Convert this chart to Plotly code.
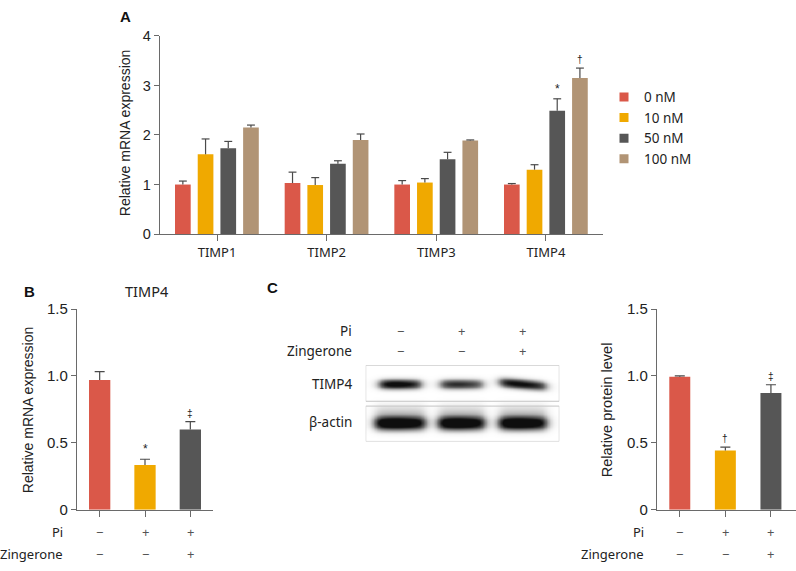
import numpy as np
import plotly.graph_objects as go

W, H = 796, 571

# ---------------- data ----------------
# Panel A: relative mRNA expression of TIMPs by zingerone dose
genes = ["TIMP1", "TIMP2", "TIMP3", "TIMP4"]
doses = ["0 nM", "10 nM", "50 nM", "100 nM"]
mean_0nM = [1.00, 1.03, 1.00, 1.00]
mean_10nM = [1.61, 0.99, 1.04, 1.30]
mean_50nM = [1.73, 1.42, 1.51, 2.49]
mean_100nM = [2.15, 1.90, 1.89, 3.15]
errtop_0nM = [1.07, 1.25, 1.08, 1.02]
errtop_10nM = [1.92, 1.14, 1.12, 1.40]
errtop_50nM = [1.87, 1.48, 1.65, 2.73]
errtop_100nM = [2.20, 2.02, 1.90, 3.35]
sig_A_series = [2, 3]
sig_A_gene = [3, 3]
sig_A_text = ["*", "†"]

# Panel B: TIMP4 mRNA
pi_signs = ["−", "+", "+"]
zing_signs = ["−", "−", "+"]
mrna_B = [0.97, 0.334, 0.60]
mrna_B_top = [1.033, 0.377, 0.658]
sig_B = ["", "*", "‡"]

# Panel C: TIMP4 protein
protein_C = [0.994, 0.443, 0.873]
protein_C_top = [1.000, 0.467, 0.934]
sig_C = ["", "†", "‡"]

# Western blot band appearance (per lane)
blot_rows = ["TIMP4", "β-actin"]
timp4_intensity = [0.95, 0.72, 0.88]
timp4_tilt = [0.0, 0.0, -0.14]
actin_intensity = [1.0, 1.0, 1.0]

# ---------------- style ----------------
colors4 = ["#DA5849", "#F0A900", "#565656", "#B19475"]
colors3 = colors4[:3]
AX = "#6a6a6a"
TXT = "#222222"
NUM_FONT = "Liberation Sans, Arial, sans-serif"
LAB_FONT = "Noto Sans, sans-serif"
ERRC = "#4a4a4a"

fig = go.Figure()


def err_lines(xc, lo, hi, cap, xa, ya):
    xs, ys = [], []
    for x, a, b in zip(xc, lo, hi):
        xs += [x, x, None, x - cap, x + cap, None]
        ys += [a, b, None, b, b, None]
    return go.Scatter(x=xs, y=ys, mode="lines", line=dict(color=ERRC, width=1.2),
                      xaxis=xa, yaxis=ya, showlegend=False, hoverinfo="skip")


# ---- Panel A bars ----
means = [mean_0nM, mean_10nM, mean_50nM, mean_100nM]
tops = [errtop_0nM, errtop_10nM, errtop_50nM, errtop_100nM]
bw = 0.143
step = 0.207
off0 = -0.383
for i in range(4):
    off = off0 + i * step
    fig.add_trace(go.Bar(x=list(range(len(genes))), y=means[i], width=bw, offset=off,
                         marker=dict(color=colors4[i], line=dict(width=0)),
                         xaxis="x", yaxis="y", showlegend=False, name=doses[i]))
    xc = [j + off + bw / 2 for j in range(len(genes))]
    fig.add_trace(err_lines(xc, means[i], tops[i], 0.036, "x", "y"))
    # legend entry
    fig.add_trace(go.Scatter(x=[None], y=[None], mode="markers", name=doses[i],
                             marker=dict(symbol="square", size=9, color=colors4[i]),
                             xaxis="x", yaxis="y", showlegend=True))

annotations = []
for s, g, t in zip(sig_A_series, sig_A_gene, sig_A_text):
    annotations.append(dict(x=g + off0 + s * step + bw / 2, y=tops[s][g], xref="x", yref="y",
                            text=t, showarrow=False, yanchor="bottom", yshift=1,
                            font=dict(size=12 if t == "*" else 10, color=TXT, family=NUM_FONT)))

# ---- Panel B ----
bwB = 0.47
fig.add_trace(go.Bar(x=[0, 1, 2], y=mrna_B, width=bwB, offset=-bwB / 2,
                     marker=dict(color=colors3, line=dict(width=0)),
                     xaxis="x2", yaxis="y2", showlegend=False))
fig.add_trace(err_lines([0, 1, 2], mrna_B, mrna_B_top, 0.11, "x2", "y2"))
for i, t in enumerate(sig_B):
    if t:
        annotations.append(dict(x=i, y=mrna_B_top[i], xref="x2", yref="y2", text=t,
                                showarrow=False, yanchor="bottom", yshift=1,
                                font=dict(size=12 if t == "*" else 10, color=TXT, family=NUM_FONT)))

# ---- Panel C bars ----
fig.add_trace(go.Bar(x=[0, 1, 2], y=protein_C, width=0.46, offset=-0.23,
                     marker=dict(color=colors3, line=dict(width=0)),
                     xaxis="x3", yaxis="y3", showlegend=False))
fig.add_trace(err_lines([0, 1, 2], protein_C, protein_C_top, 0.11, "x3", "y3"))
for i, t in enumerate(sig_C):
    if t:
        annotations.append(dict(x=i, y=protein_C_top[i], xref="x3", yref="y3", text=t,
                                showarrow=False, yanchor="bottom", yshift=1,
                                font=dict(size=10, color=TXT, family=NUM_FONT)))

# ---- Western blot image (heatmap) ----
bx = np.linspace(-0.56, 2.6, 330)
by = np.linspace(0.0, 2.0, 170)
X, Y = np.meshgrid(bx, by)
Z = np.zeros_like(X)


def band(xc, yc, hw, hh, amp, tilt, halo=0.0):
    yy = yc + tilt * (X - xc)
    px = 1.0 / (1.0 + np.exp((np.abs(X - xc) - hw) / 0.045))
    py = np.exp(-np.abs((Y - yy) / hh) ** 2.2)
    core = 0.75 + 0.25 * np.exp(-((X - xc + 0.08) / (hw * 0.9)) ** 2)
    val = amp * px * py * core
    if halo:
        ph = np.exp(-np.abs((Y - (yy + hh * 1.6)) / (hh * 1.2)) ** 2)
        val = val + halo * px * ph
    return val


timp4_hw = [0.33, 0.34, 0.37]
actin_hw = [0.40, 0.37, 0.38]
for i in range(3):
    Z = Z + band(i, 1.505, timp4_hw[i], 0.12, timp4_intensity[i] * 1.2, timp4_tilt[i])
    Z = Z + band(i, 0.48, actin_hw[i], 0.17, actin_intensity[i] * 1.4, 0.0, halo=0.18)
Z = np.clip(Z, 0, 1)
fig.add_trace(go.Heatmap(x=bx, y=by, z=Z, zmin=0, zmax=1, zsmooth="best",
                         colorscale=[[0, "#ffffff"], [0.5, "#777777"], [1, "#0e0e0e"]],
                         showscale=False, xaxis="x4", yaxis="y4", hoverinfo="skip"))

shapes = [
    dict(type="rect", xref="x4", yref="y4", x0=-0.56, x1=2.6, y0=1.056, y1=2.0,
         line=dict(color="#c4c4c4", width=1)),
    dict(type="rect", xref="x4", yref="y4", x0=-0.56, x1=2.6, y0=0.0, y1=0.929,
         line=dict(color="#c4c4c4", width=1)),
]

# ---- texts ----
def ptxt(x, y, text, size, xanchor="center", family=LAB_FONT, color=TXT, bold=False, angle=0):
    return dict(x=x / W, y=1 - y / H, xref="paper", yref="paper", text=f"<b>{text}</b>" if bold else text,
                showarrow=False, xanchor=xanchor, yanchor="middle", textangle=angle,
                font=dict(size=size, family=family, color=color))

annotations += [
    ptxt(125, 8, "A", 15, family=NUM_FONT, bold=True, color="#111"),
    ptxt(30, 291, "B", 15, family=NUM_FONT, bold=True, color="#111"),
    ptxt(272, 287, "C", 15, family=NUM_FONT, bold=True, color="#111"),
    ptxt(125, 128, "Relative mRNA expression", 14, family=NUM_FONT, angle=-90),
    ptxt(27.5, 413, "Relative mRNA expression", 14, family=NUM_FONT, angle=-90),
    ptxt(606.5, 413, "Relative protein level", 14.5, family=NUM_FONT, angle=-90),
    ptxt(146.5, 291, "TIMP4", 14.5),
    ptxt(65, 539, "Pi", 13, xanchor="right"),
    ptxt(65, 562, "Zingerone", 13, xanchor="right"),
    ptxt(646, 539, "Pi", 13, xanchor="right"),
    ptxt(646, 562, "Zingerone", 13, xanchor="right"),
    ptxt(354, 332, "Pi", 13.5, xanchor="right"),
    ptxt(354, 353, "Zingerone", 13.5, xanchor="right"),
    ptxt(354, 386, blot_rows[0], 13.5, xanchor="right"),
    ptxt(354, 426, blot_rows[1], 13.5, xanchor="right"),
]
for xr in ["x2", "x3", "x4"]:
    for i in range(3):
        yp = (332, 353) if xr == "x4" else (539, 562)
        for sgn, yy in zip((pi_signs[i], zing_signs[i]), yp):
            annotations.append(dict(x=i, y=1 - yy / H, xref=xr, yref="paper", text=sgn, showarrow=False,
                                    xanchor="center", yanchor="middle",
                                    font=dict(size=13, family=LAB_FONT, color="#555555")))

common_y = dict(showgrid=False, zeroline=False, showline=True, linecolor=AX, linewidth=1.3,
                ticks="outside", ticklen=5, tickcolor=AX, tickwidth=1.3,
                tickfont=dict(family=NUM_FONT, size=15, color=TXT))
common_x = dict(showgrid=False, zeroline=False, showline=True, linecolor=AX, linewidth=1.3,
                ticks="outside", ticklen=6, tickcolor=AX, tickwidth=1.3)

fig.update_layout(
    width=W, height=H, margin=dict(l=0, r=0, t=0, b=0),
    paper_bgcolor="white", plot_bgcolor="white", barmode="overlay",
    showlegend=True,
    legend=dict(x=604 / W, y=1 - 75 / H, xanchor="left", yanchor="top",
                font=dict(family=LAB_FONT, size=13.5, color=TXT), bgcolor="rgba(0,0,0,0)",
                itemwidth=30, tracegroupgap=0),
    xaxis=dict(domain=[160 / W, 603 / W], anchor="y", range=[-0.52, 3.52],
               tickvals=list(range(len(genes))), ticktext=genes,
               tickfont=dict(family=LAB_FONT, size=13, color=TXT), **common_x),
    yaxis=dict(domain=[1 - 232 / H, 1 - 27.7 / H], anchor="x", range=[0, 4],
               tickvals=[0, 1, 2, 3, 4], **{**common_y, "tickfont": dict(family=NUM_FONT, size=14.5, color=TXT)}),
    xaxis2=dict(domain=[77 / W, 213 / W], anchor="y2", range=[-0.5, 2.5],
                tickvals=[0, 1, 2], showticklabels=False, **common_x),
    yaxis2=dict(domain=[1 - 516 / H, 1 - 309.3 / H], anchor="x2", range=[0, 1.5],
                tickvals=[0, 0.5, 1, 1.5], ticktext=["0", "0.5", "1.0", "1.5"], **common_y),
    xaxis3=dict(domain=[657 / W, 1.0], anchor="y3", range=[-0.5, 2.55],
                tickvals=[0, 1, 2], showticklabels=False, **common_x),
    yaxis3=dict(domain=[1 - 516 / H, 1 - 309.3 / H], anchor="x3", range=[0, 1.5],
                tickvals=[0, 0.5, 1, 1.5], ticktext=["0", "0.5", "1.0", "1.5"], **common_y),
    xaxis4=dict(domain=[365.7 / W, 559.3 / W], anchor="y4", range=[-0.56, 2.6], visible=False),
    yaxis4=dict(domain=[1 - 445.7 / H, 1 - 367.3 / H], anchor="x4", range=[0, 2], visible=False),
    annotations=annotations, shapes=shapes,
)

fig.write_html("out.html", config={"displayModeBar": False},
               post_script="document.body.style.margin='0';document.body.style.overflow='hidden';")
